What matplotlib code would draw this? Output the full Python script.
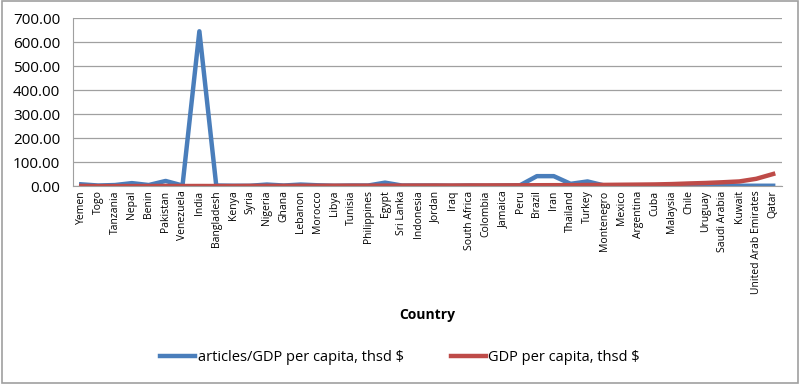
import matplotlib
matplotlib.use("Agg")
import matplotlib.pyplot as plt
from matplotlib.ticker import FormatStrFormatter

countries = ["Yemen", "Togo", "Tanzania", "Nepal", "Benin", "Pakistan", "Venezuela", "India",
             "Bangladesh", "Kenya", "Syria", "Nigeria", "Ghana", "Lebanon", "Morocco", "Libya",
             "Tunisia", "Philippines", "Egypt", "Sri Lanka", "Indonesia", "Jordan", "Iraq",
             "South Africa", "Colombia", "Jamaica", "Peru", "Brazil", "Iran", "Thailand", "Turkey",
             "Montenegro", "Mexico", "Argentina", "Cuba", "Malaysia", "Chile", "Uruguay",
             "Saudi Arabia", "Kuwait", "United Arab Emirates", "Qatar"]

articles_per_gdp = [8, 3, 5, 13, 5, 22, 3, 645, 3, 2, 2, 7, 3, 7, 4, 2, 3, 3, 15, 3, 3,
                    3, 2, 3, 2, 3, 4, 42, 42, 10, 20, 3, 3, 3, 3, 2, 3, 3, 5, 2, 2, 2]

gdp_per_capita = [1.3, 0.5, 0.6, 0.7, 0.8, 1.2, 0.9, 1.0, 0.8, 1.0, 1.5, 1.5, 1.6, 2.0, 2.0,
                  2.2, 2.3, 2.3, 2.5, 2.6, 2.8, 3.0, 3.0, 3.3, 3.5, 3.6, 3.8, 4.2, 4.4, 4.6,
                  5.2, 5.6, 6.2, 6.8, 7.5, 9.0, 11.5, 13.5, 16.5, 20.0, 31.0, 51.0]

plt.rcParams['font.family'] = ['Open Sans', 'DejaVu Sans']

fig = plt.figure(figsize=(8, 3.84), dpi=100)
ax = fig.add_axes([0.091, 0.515, 0.886, 0.438])

x = list(range(len(countries)))
ax.plot(x, articles_per_gdp, color="#4a7ebb", lw=3.2, solid_joinstyle="round",
        label="articles/GDP per capita, thsd $")
ax.plot(x, gdp_per_capita, color="#be4b48", lw=3.2, solid_joinstyle="round",
        label="GDP per capita, thsd $")

ax.set_xlim(-0.5, len(countries) - 0.5)
ax.set_ylim(0, 700)
ax.set_yticks(range(0, 701, 100))
ax.yaxis.set_major_formatter(FormatStrFormatter("%.2f"))
ax.set_xticks(x)
ax.set_xticklabels(countries, rotation=90, fontsize=7.5)
ax.tick_params(axis="y", labelsize=11, length=0, pad=9)
ax.tick_params(axis="x", length=0, pad=3)
ax.grid(axis="y", color="#a0a0a0", lw=0.9)
ax.set_axisbelow(True)
for s in ["top", "right"]:
    ax.spines[s].set_visible(False)
ax.spines["left"].set_color("#a0a0a0")
ax.spines["bottom"].set_color("#a0a0a0")

ax.set_xlabel("Country", fontsize=10, fontweight="bold", labelpad=10)

fig.legend(loc="center", bbox_to_anchor=(0.5, 0.07), ncol=2, frameon=False,
           fontsize=10.5, handlelength=2.4, handletextpad=0.2, columnspacing=3.2)

border = plt.Rectangle((0.002, 0.003), 0.996, 0.994, transform=fig.transFigure,
                       fill=False, edgecolor="#a0a0a0", lw=1.2)
fig.patches.append(border)

fig.savefig("out.png", dpi=100)
